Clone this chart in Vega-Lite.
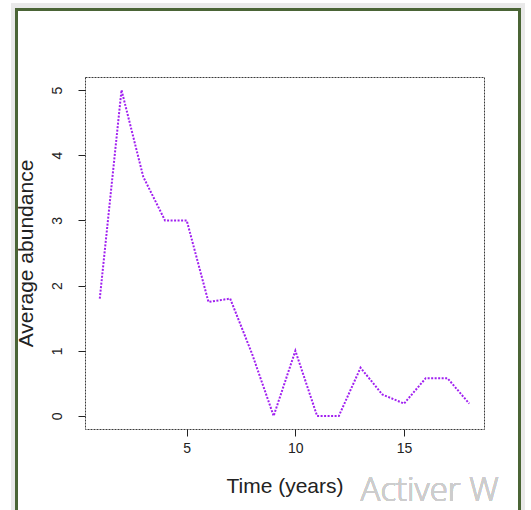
{
  "$schema": "https://vega.github.io/schema/vega-lite/v6.json",
  "width": 399,
  "height": 352,
  "autosize": {"type": "none"},
  "padding": {"left": 85, "top": 77, "right": 47, "bottom": 81},
  "background": "white",
  "config": {
    "view": {"stroke": "#3a3a3a", "strokeWidth": 1, "strokeDash": [2, 1]},
    "axis": {
      "grid": false,
      "domain": false,
      "tickColor": "#222",
      "tickSize": 7,
      "labelFont": "Liberation Sans",
      "titleFont": "Liberation Sans",
      "labelColor": "#222",
      "titleColor": "#222",
      "labelFontSize": 14,
      "titleFontSize": 21,
      "titleFontWeight": "normal",
      "zindex": 1
    }
  },
  "data": {
    "values": [
      {"time": 1, "abundance": 1.8},
      {"time": 2, "abundance": 5.0},
      {"time": 3, "abundance": 3.67},
      {"time": 4, "abundance": 3.0},
      {"time": 5, "abundance": 3.0},
      {"time": 6, "abundance": 1.75},
      {"time": 7, "abundance": 1.8},
      {"time": 8, "abundance": 0.96},
      {"time": 9, "abundance": 0.0},
      {"time": 10, "abundance": 1.0},
      {"time": 11, "abundance": 0.0},
      {"time": 12, "abundance": 0.0},
      {"time": 13, "abundance": 0.74},
      {"time": 14, "abundance": 0.33},
      {"time": 15, "abundance": 0.19},
      {"time": 16, "abundance": 0.58},
      {"time": 17, "abundance": 0.58},
      {"time": 18, "abundance": 0.19}
    ]
  },
  "layer": [
    {
      "mark": {"type": "rect", "fill": null, "stroke": "#e9e9e9", "strokeWidth": 5},
      "encoding": {
        "x": {"datum": -2.95, "type": "quantitative"},
        "x2": {"datum": 20.43},
        "y": {"datum": 6.29, "type": "quantitative"},
        "y2": {"datum": -1.75}
      }
    },
    {
      "mark": {"type": "rect", "fill": null, "stroke": "#4b6536", "strokeWidth": 2},
      "encoding": {
        "x": {"datum": -2.832, "type": "quantitative"},
        "x2": {"datum": 20.31},
        "y": {"datum": 6.236, "type": "quantitative"},
        "y2": {"datum": -1.75}
      }
    },
    {
      "mark": {"type": "text", "text": "Activer W", "font": "Open Sans", "fontSize": 33, "fontWeight": 300, "color": "#cdcdcd", "align": "left", "baseline": "alphabetic"},
      "encoding": {
        "x": {"datum": 13.0, "type": "quantitative"},
        "y": {"datum": -1.31, "type": "quantitative"}
      }
    },
    {
      "mark": {"type": "line", "color": "#a020f0", "strokeWidth": 2, "strokeDash": [2, 1.5]},
      "encoding": {
        "x": {
          "field": "time",
          "type": "quantitative",
          "scale": {"domain": [0.32, 18.68], "nice": false, "zero": false},
          "axis": {"values": [5, 10, 15], "format": "d", "title": "Time (years)", "labelPadding": 5, "titlePadding": 20}
        },
        "y": {
          "field": "abundance",
          "type": "quantitative",
          "scale": {"domain": [-0.2, 5.2], "nice": false, "zero": false},
          "axis": {"values": [0, 1, 2, 3, 4, 5], "format": "d", "title": "Average abundance", "labelAngle": -90, "labelAlign": "center", "labelBaseline": "bottom", "labelPadding": 14, "titlePadding": 14}
        }
      }
    }
  ]
}
